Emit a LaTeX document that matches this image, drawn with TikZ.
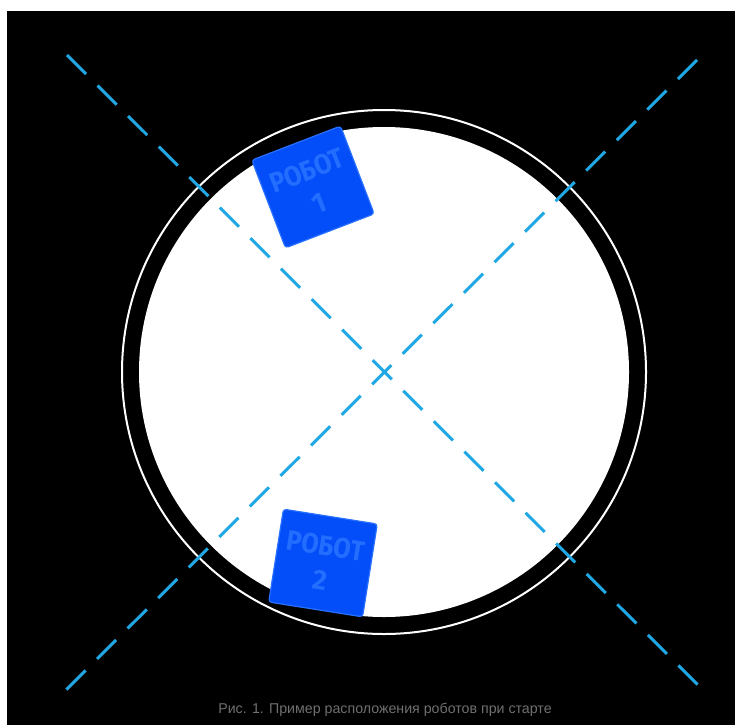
\documentclass[tikz,border=0pt]{standalone}
\usepackage{fontspec}
\setmainfont{Liberation Sans}
\newfontfamily\robotfont{Fira Sans}
\definecolor{guideblue}{RGB}{32,168,228}
\definecolor{robotblue}{RGB}{4,78,250}
\definecolor{robotedge}{RGB}{40,112,255}
\definecolor{robottext}{RGB}{36,110,255}
\definecolor{captiongray}{RGB}{112,112,112}
\begin{document}
\begin{tikzpicture}[
    x=1pt, y=-1pt,
    robot/.style={rectangle, rounded corners=3pt, draw=robotedge, line width=1.2pt,
        fill=robotblue, text=robottext, align=center, inner sep=0pt,
        minimum width=95pt, minimum height=94pt,
        font=\robotfont\bfseries\fontsize{28}{35}\selectfont},
    guide/.style={guideblue, line width=3pt, dash pattern=on 27pt off 16.2pt}
]
% Background
\fill[white] (0,0) rectangle (735,725);
\fill[black] (7,11) rectangle (735,725);
\useasboundingbox (0,0) rectangle (735,725);

% Field
\node[circle, draw=white, line width=2pt, inner sep=0pt, minimum size=524pt] (ring) at (384,372) {};
\node[circle, fill=white, inner sep=0pt, minimum size=490pt] (field) at (384,372) {};

% Diagonals
\coordinate (tl) at (67,55);
\coordinate (br) at (699,686);
\coordinate (tr) at (697,60);
\coordinate (bl) at (65,691);
\draw[guide] (tl) -- (br);
\draw[guide] (tr) -- (bl);

% Robots
\node[robot, rotate=21] (robot1) at (313,187) {\scalebox{0.9}[1]{РОБОТ}\\1};
\node[robot, rotate=-9] (robot2) at (323,563) {\scalebox{0.9}[1]{РОБОТ}\\2};

% Caption
\node[text=captiongray, font=\fontsize{14.2}{16}\selectfont] (caption) at (385,710)
    {Рис. 1. Пример расположения роботов при старте};
\end{tikzpicture}
\end{document}
